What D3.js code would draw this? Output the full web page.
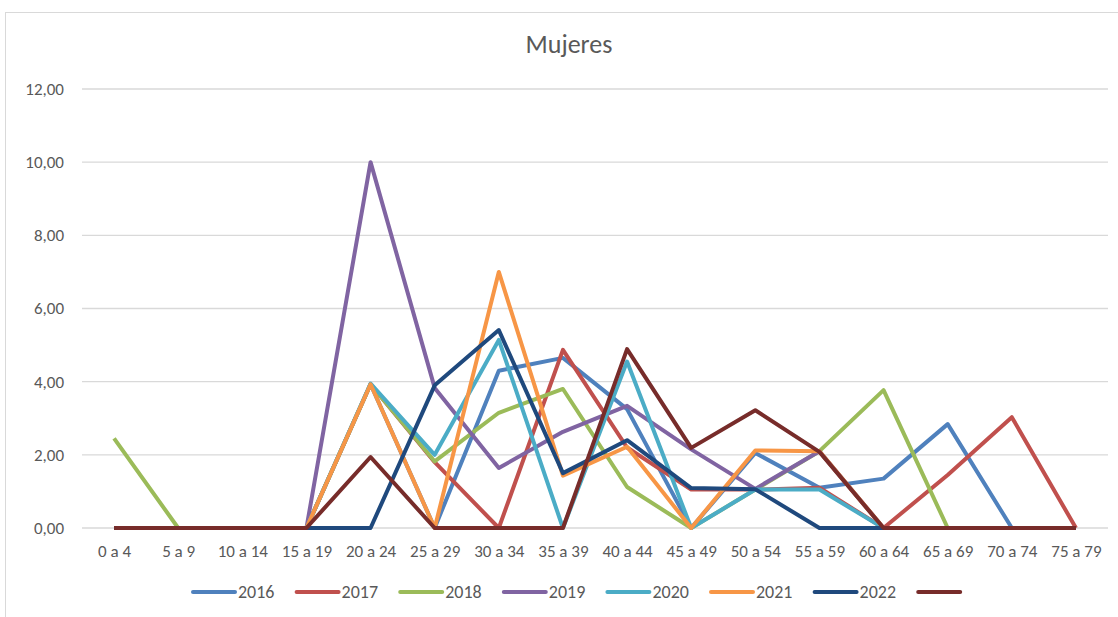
<!DOCTYPE html>
<html>
<head>
<meta charset="utf-8">
<script src="https://cdn.jsdelivr.net/npm/d3@7"></script>
<style>
  body { margin: 0; background: #fff; }
  svg { font-family: Calibri, Carlito, Lato, sans-serif; }
</style>
</head>
<body>
<svg id="chart" width="1118" height="617"></svg>
<script>
const ageGroups = ["0 a 4", "5 a 9", "10 a 14", "15 a 19", "20 a 24", "25 a 29", "30 a 34", "35 a 39",
  "40 a 44", "45 a 49", "50 a 54", "55 a 59", "60 a 64", "65 a 69", "70 a 74", "75 a 79"];

const seriesNames = ["2016", "2017", "2018", "2019", "2020", "2021", "2022", ""];
const seriesColors = ["#4F81BD", "#C0504D", "#9BBB59", "#8064A2", "#4BACC6", "#F79646", "#1F497D", "#772C2A"];

const v2016 = [0, 0, 0, 0, 3.93, 0, 4.3, 4.65, 3.25, 0, 2.05, 1.1, 1.35, 2.84, 0, 0];
const v2017 = [0, 0, 0, 0, 3.93, 1.8, 0, 4.87, 2.2, 1.05, 1.05, 1.1, 0, 1.45, 3.03, 0];
const v2018 = [2.45, 0, 0, 0, 3.93, 1.82, 3.15, 3.8, 1.12, 0, 1.05, 2.1, 3.77, 0, 0, 0];
const v2019 = [0, 0, 0, 0, 10, 3.83, 1.64, 2.63, 3.34, 2.15, 1.07, 2.1, 0, 0, 0, 0];
const v2020 = [0, 0, 0, 0, 3.95, 2.0, 5.14, 0, 4.55, 0, 1.05, 1.05, 0, 0, 0, 0];
const v2021 = [0, 0, 0, 0, 3.93, 0, 7.0, 1.43, 2.22, 0, 2.12, 2.1, 0, 0, 0, 0];
const v2022 = [0, 0, 0, 0, 0, 3.9, 5.41, 1.5, 2.4, 1.09, 1.06, 0, 0, 0, 0, 0];
const vOther = [0, 0, 0, 0, 1.94, 0, 0, 0, 4.89, 2.19, 3.22, 2.08, 0, 0, 0, 0];

const allValues = [v2016, v2017, v2018, v2019, v2020, v2021, v2022, vOther];
const yTicks = [0, 2, 4, 6, 8, 10, 12];

const svg = d3.select("#chart");
const margin = { top: 89, right: 10, bottom: 89, left: 82 };
const width = 1118 - margin.left - margin.right;
const height = 617 - margin.top - margin.bottom;
const fontFam = "Calibri, Carlito, Lato, sans-serif";

// chart frame
svg.append("rect")
  .attr("x", 5.5).attr("y", 12.5)
  .attr("width", 1130).attr("height", 620)
  .attr("fill", "#fff")
  .attr("stroke", "#d9d9d9");

svg.append("text")
  .attr("x", 569).attr("y", 53)
  .attr("text-anchor", "middle")
  .attr("font-size", 26)
  .attr("fill", "#595959")
  .text("Mujeres");

const g = svg.append("g").attr("transform", `translate(${margin.left},${margin.top})`);

const x = d3.scalePoint().domain(ageGroups).range([0, width]).padding(0.5);
const y = d3.scaleLinear().domain([0, 12]).range([height, 0]);

// gridlines
g.append("g")
  .selectAll("line")
  .data(yTicks)
  .join("line")
  .attr("x1", 0).attr("x2", width)
  .attr("y1", d => y(d)).attr("y2", d => y(d))
  .attr("stroke", "#d9d9d9")
  .attr("stroke-width", 1.3);

// y labels
const yAxis = g.append("g")
  .call(d3.axisLeft(y).tickValues(yTicks).tickSize(0).tickPadding(18)
    .tickFormat(d => d3.format(".2f")(d).replace(".", ",")));
yAxis.select(".domain").remove();
yAxis.selectAll("text").attr("font-size", 17).attr("fill", "#595959")
  .style("font-family", fontFam);

// x labels
const xAxis = g.append("g")
  .attr("transform", `translate(0,${height})`)
  .call(d3.axisBottom(x).tickSize(0).tickPadding(17));
xAxis.select(".domain").remove();
xAxis.selectAll("text").attr("font-size", 17).attr("fill", "#595959")
  .style("font-family", fontFam);

// lines
const line = d3.line()
  .x((d, i) => x(ageGroups[i]))
  .y(d => y(d));

g.append("g")
  .selectAll("path")
  .data(allValues)
  .join("path")
  .attr("d", d => line(d))
  .attr("fill", "none")
  .attr("stroke", (d, i) => seriesColors[i])
  .attr("stroke-width", 4)
  .attr("stroke-linejoin", "round");

// legend
const legend = svg.append("g").attr("transform", "translate(193,592)");
const item = legend.selectAll("g")
  .data(seriesNames)
  .join("g")
  .attr("transform", (d, i) => `translate(${i * 103.6},0)`);

item.append("line")
  .attr("x1", 0).attr("x2", 42)
  .attr("stroke", (d, i) => seriesColors[i])
  .attr("stroke-width", 4)
  .attr("stroke-linecap", "round");

item.append("text")
  .attr("x", 45).attr("y", 6)
  .attr("font-size", 18)
  .attr("fill", "#595959")
  .text(d => d);
</script>
</body>
</html>
